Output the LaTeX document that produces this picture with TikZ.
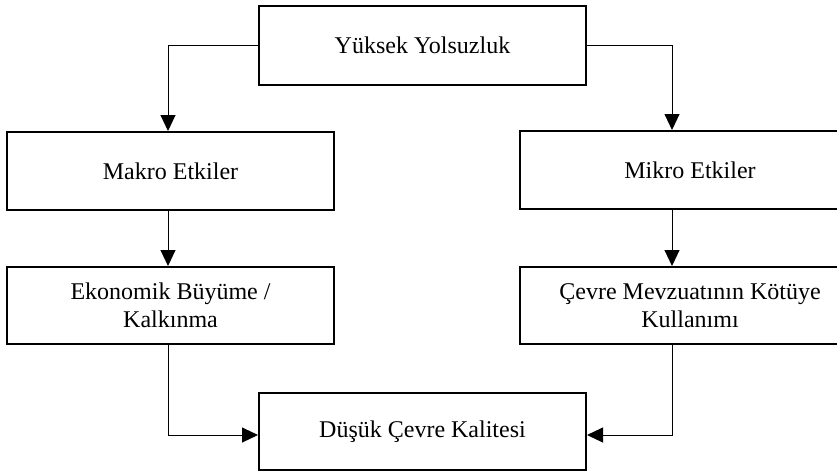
\documentclass[tikz,border=0pt]{standalone}
\usepackage{fontspec}
\setmainfont{Liberation Serif}
\usetikzlibrary{arrows.meta}

\begin{document}
\begin{tikzpicture}[x=1pt,y=-1pt,
    box/.style={draw,line width=2pt,minimum width=327pt,minimum height=78pt,
        align=center,font=\fontsize{24}{27.5}\selectfont,inner sep=0pt},
    arr/.style={-{Triangle[length=16pt,width=15pt]},line width=1pt}]
    \useasboundingbox (0,0) rectangle (837,471);
    \node[box,minimum height=79pt] (top) at (422.5,45.5) {Yüksek Yolsuzluk};
    \node[box] (makro) at (170.5,171) {Makro Etkiler};
    \node[box,minimum width=340pt] (mikro) at (690,170) {Mikro Etkiler};
    \node[box,minimum height=77pt] (eko) at (170.5,305.5) {Ekonomik Büyüme /\\Kalkınma};
    \node[box,minimum height=77pt,minimum width=340pt] (cevre) at (690,305.5) {Çevre Mevzuatının Kötüye\\Kullanımı};
    \node[box,minimum height=77pt] (dusuk) at (422.5,431.5) {Düşük Çevre Kalitesi};
    \draw[arr] (top.west) -| ([xshift=-2.5pt]makro.north);
    \draw[arr] (top.east) -| ([xshift=-18pt]mikro.north);
    \draw[arr] ([xshift=-2.5pt]makro.south) -- ([xshift=-2.5pt]eko.north);
    \draw[arr] ([xshift=-18pt]mikro.south) -- ([xshift=-18pt]cevre.north);
    \draw[arr] ([xshift=-2.5pt]eko.south) |- ([yshift=-3.5pt]dusuk.west);
    \draw[arr] ([xshift=-18pt]cevre.south) |- ([yshift=-3.5pt]dusuk.east);
\end{tikzpicture}
\end{document}
